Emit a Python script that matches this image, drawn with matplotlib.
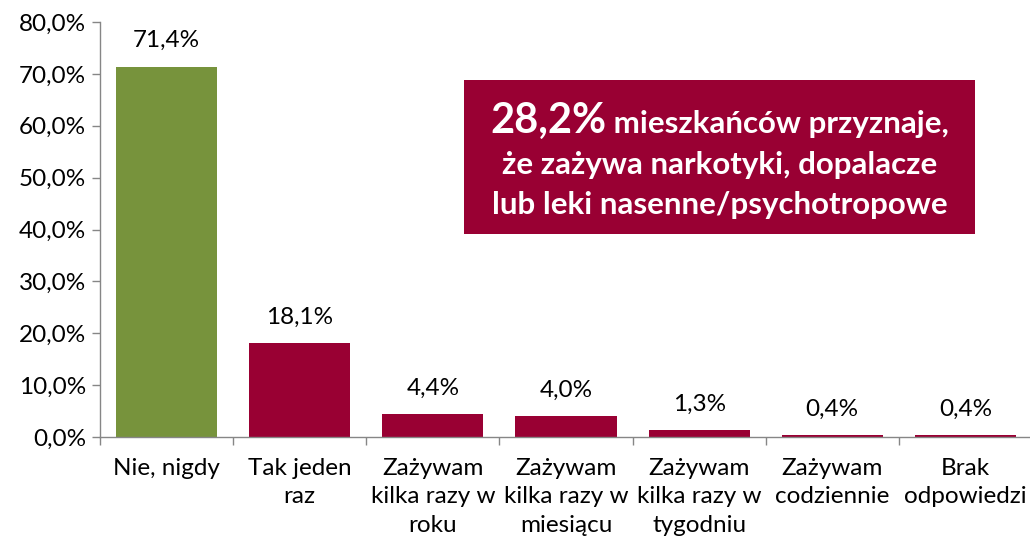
import matplotlib
matplotlib.use("Agg")
import matplotlib.pyplot as plt
from matplotlib.patches import Rectangle
from matplotlib.ticker import FuncFormatter

plt.rcParams['font.family'] = ['Lato', 'DejaVu Sans']

categories = ["Nie, nigdy", "Tak jeden\nraz", "Zażywam\nkilka razy w\nroku",
              "Zażywam\nkilka razy w\nmiesiącu", "Zażywam\nkilka razy w\ntygodniu",
              "Zażywam\ncodziennie", "Brak\nodpowiedzi"]
values = [71.4, 18.1, 4.4, 4.0, 1.3, 0.4, 0.4]
value_labels = ["71,4%", "18,1%", "4,4%", "4,0%", "1,3%", "0,4%", "0,4%"]
y_ticks = [0, 10, 20, 30, 40, 50, 60, 70, 80]

GREEN = "#77933C"
CRIMSON = "#990033"
AXIS = "#868686"
colors = [GREEN] + [CRIMSON] * (len(values) - 1)
FS = 17.5

W, H = 1030, 548
fig = plt.figure(figsize=(W / 100, H / 100), dpi=100)
ax = fig.add_axes([100 / W, (H - 437) / H, 932 / W, 415 / H])

x = list(range(len(values)))
ax.bar(x, values, width=0.76, color=colors, zorder=2)
ax.set_xlim(-0.5, len(values) - 0.5)
ax.set_ylim(0, 80)

for xi, v, lab in zip(x, values, value_labels):
    ax.annotate(lab, (xi, v), xytext=(0, 11), textcoords="offset points",
                ha="center", va="bottom", fontsize=FS, color="#000000")

ax.set_yticks(y_ticks)
ax.yaxis.set_major_formatter(FuncFormatter(lambda v, p: f"{v:.1f}%".replace(".", ",")))
ax.set_xticks(x)
ax.set_xticklabels(categories, fontsize=FS, linespacing=1.45)
ax.set_xticks([i - 0.5 for i in range(len(values) + 1)], minor=True)
ax.tick_params(axis="x", which="major", length=0, pad=15)
ax.tick_params(axis="x", which="minor", length=6, width=1, color=AXIS, direction="out")
ax.tick_params(axis="y", which="major", length=6, width=1, color=AXIS, labelsize=FS, pad=4)

for s in ["top", "right"]:
    ax.spines[s].set_visible(False)
for s in ["left", "bottom"]:
    ax.spines[s].set_color(AXIS)
    ax.spines[s].set_linewidth(1)

# Text box
bx0, by0, bx1, by1 = 464, 80, 975, 234
fig.patches.append(Rectangle((bx0 / W, 1 - by1 / H), (bx1 - bx0) / W, (by1 - by0) / H,
                             transform=fig.transFigure, facecolor=CRIMSON, edgecolor="none", zorder=5))
cx = (bx0 + bx1) / 2 / W
BFS = 22.5
t1a = fig.text(0, 1 - 121 / H, "28,2%", fontsize=30, fontweight="bold", color="white",
               va="center", ha="left", zorder=6)
t1b = fig.text(0, 1 - 124 / H, " mieszkańców przyznaje,", fontsize=BFS, fontweight="bold",
               color="white", va="center", ha="left", zorder=6)
fig.canvas.draw()
r = fig.canvas.get_renderer()
wa = t1a.get_window_extent(r).width
wb = t1b.get_window_extent(r).width
start = (bx0 + bx1) / 2 - (wa + wb) / 2
t1a.set_x(start / W)
t1b.set_x((start + wa) / W)
fig.text(cx, 1 - 165 / H, "że zażywa narkotyki, dopalacze", fontsize=BFS, fontweight="bold",
         color="white", ha="center", va="center", zorder=6)
fig.text(cx, 1 - 205 / H, "lub leki nasenne/psychotropowe", fontsize=BFS, fontweight="bold",
         color="white", ha="center", va="center", zorder=6)

fig.savefig("out.png", dpi=100)
